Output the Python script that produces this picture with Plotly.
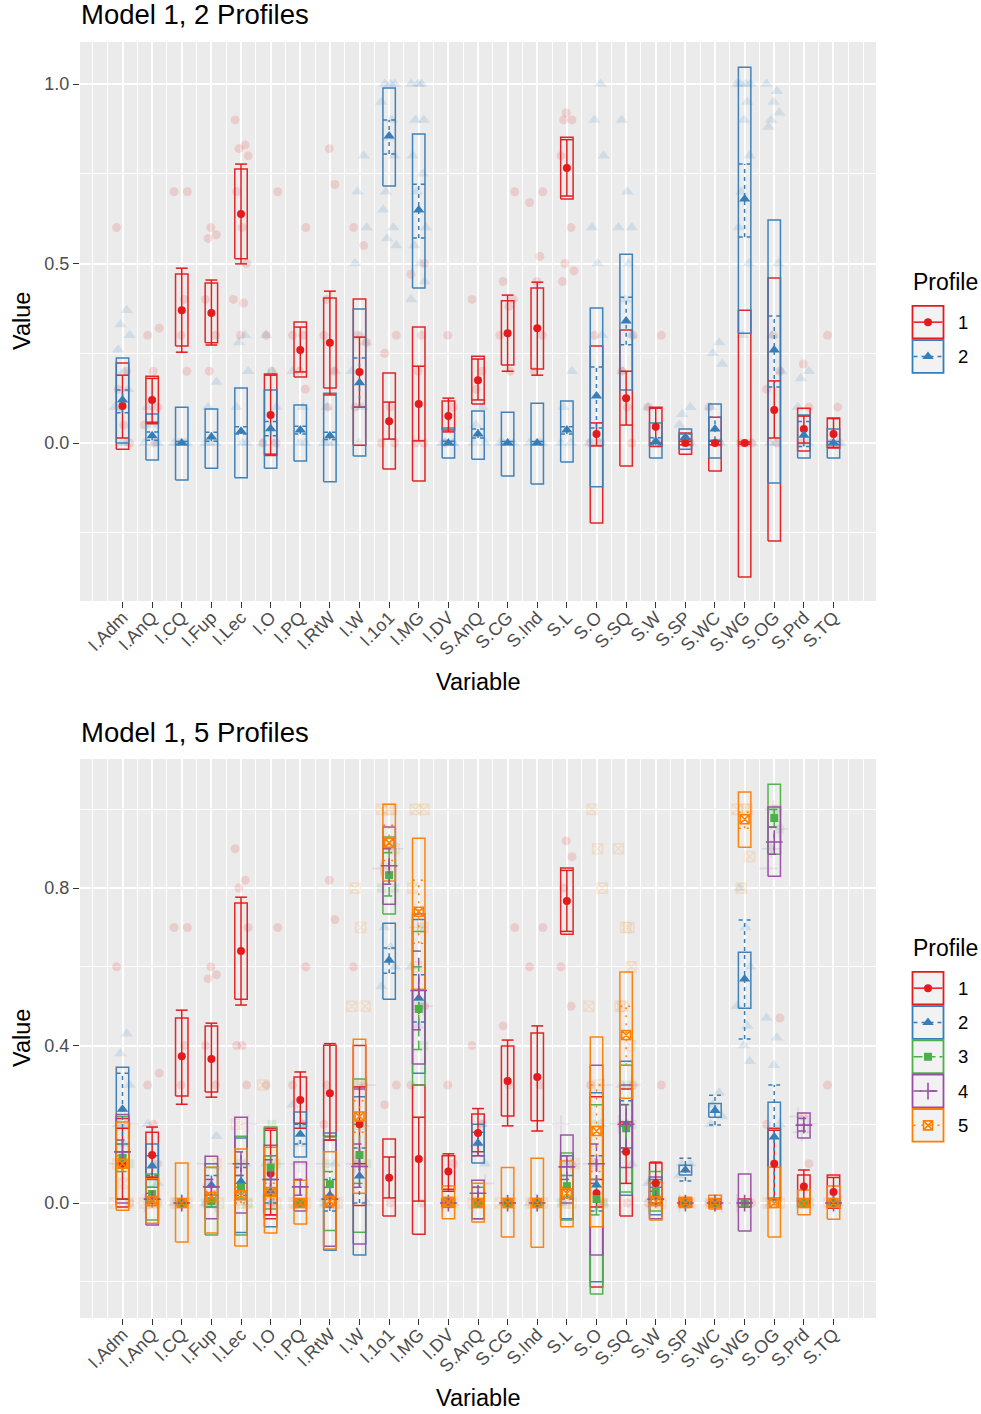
import plotly.graph_objects as go

# the page body margin is removed after rendering (see write_html below), so page pixels == figure pixels
OFF = 0
PAGE_W, PAGE_H = 981, 1414
W, H = PAGE_W, PAGE_H
FONT = "Liberation Sans, Arial, Helvetica, sans-serif"

CATS = ["I.Adm", "I.AnQ", "I.CQ", "I.Fup", "I.Lec", "I.O", "I.PQ", "I.RtW", "I.W", "I.1o1",
        "I.MG", "I.DV", "S.AnQ", "S.CG", "S.Ind", "S.L", "S.O", "S.SQ", "S.W", "S.SP",
        "S.WC", "S.WG", "S.OG", "S.Prd", "S.TQ"]
PROFILE_LABELS = ["1", "2", "3", "4", "5"]

# ---------------- Model 1, 2 Profiles ----------------
M2P1_MEAN = [0.103, 0.12, 0.37, 0.362, 0.638, 0.078, 0.259, 0.279, 0.198, 0.061, 0.109, 0.075, 0.175,
             0.306, 0.32, 0.766, 0.025, 0.125, 0.045, 0.0, 0.0, 0.0, 0.092, 0.039, 0.025]
M2P1_BOX_HI = [0.223, 0.186, 0.471, 0.446, 0.763, 0.192, 0.337, 0.404, 0.401, 0.195, 0.323, 0.117, 0.242,
               0.396, 0.432, 0.852, 0.27, 0.315, 0.1, 0.028, 0.072, 0.37, 0.46, 0.097, 0.07]
M2P1_BOX_LO = [-0.017, 0.054, 0.27, 0.279, 0.513, -0.035, 0.184, 0.153, -0.006, -0.072, -0.106, 0.036, 0.109,
               0.217, 0.206, 0.68, -0.223, -0.064, -0.01, -0.031, -0.078, -0.373, -0.273, -0.022, -0.014]
M2P1_CI_HI = [0.189, 0.18, 0.487, 0.454, 0.777, 0.189, 0.323, 0.423, 0.295, 0.114, 0.214, 0.125, 0.234,
              0.412, 0.448, 0.845, 0.056, 0.2, 0.097, 0.005, 0.005, 0.003, 0.173, 0.075, 0.068]
M2P1_CI_LO = [0.014, 0.058, 0.253, 0.273, 0.499, -0.031, 0.198, 0.134, 0.1, 0.011, 0.006, 0.031, 0.12,
              0.2, 0.189, 0.688, -0.008, 0.05, 0.0, -0.005, -0.005, -0.003, 0.014, 0.0, -0.012]
M2P1_RAW = [[0.6, 0.2, 0.1, 0.0, 0.15, 0.05], [0.32, 0.3, 0.2, 0.1, 0.05, 0.0], [0.7, 0.7, 0.4, 0.3, 0.2],
            [0.6, 0.58, 0.57, 0.4, 0.3, 0.2], [0.9, 0.83, 0.82, 0.8, 0.7, 0.6, 0.5, 0.4, 0.39, 0.3],
            [0.7, 0.3, 0.2, 0.0, 0.0], [0.6, 0.3, 0.3, 0.2, 0.15], [0.82, 0.72, 0.4, 0.3, 0.2, 0.1],
            [0.6, 0.55, 0.3, 0.28, 0.1], [0.3, 0.25, 0.1, 0.0, 0.0], [0.5, 0.47, 0.3, 0.2, 0.0, 0.0],
            [0.3, 0.1, 0.0], [0.4, 0.2, 0.15], [0.7, 0.45, 0.38, 0.4, 0.3, 0.2],
            [0.7, 0.67, 0.52, 0.45, 0.3, 0.2], [0.92, 0.9, 0.9, 0.8, 0.6, 0.5, 0.48, 0.45],
            [0.0, 0.0, 0.3], [0.3, 0.2, 0.1, 0.0], [0.3, 0.1, 0.0], [0.0, 0.0], [0.1, 0.0],
            [0.0, 0.0, 0.0], [0.2, 0.15, 0.0, 0.3], [0.22, 0.1, 0.0], [0.3, 0.1, 0.0]]

M2P2_MEAN = [0.12, 0.02, 0.0, 0.017, 0.033, 0.04, 0.036, 0.02, 0.168, 0.855, 0.649, 0.0, 0.025,
             0.0, 0.0, 0.036, 0.131, 0.34, 0.005, 0.017, 0.039, 0.68, 0.259, 0.022, 0.0]
M2P2_BOX_HI = [0.237, 0.081, 0.1, 0.095, 0.153, 0.148, 0.106, 0.139, 0.373, 0.989, 0.861, 0.042, 0.089,
               0.086, 0.111, 0.117, 0.376, 0.526, 0.056, 0.039, 0.109, 1.047, 0.621, 0.078, 0.039]
M2P2_BOX_LO = [0.0, -0.047, -0.103, -0.07, -0.097, -0.07, -0.05, -0.108, -0.036, 0.716, 0.432, -0.042, -0.045,
               -0.092, -0.114, -0.053, -0.122, 0.148, -0.042, -0.017, -0.042, 0.306, -0.111, -0.042, -0.042]
M2P2_CI_HI = [0.148, 0.031, 0.004, 0.03, 0.045, 0.06, 0.047, 0.03, 0.237, 0.9, 0.721, 0.005, 0.039,
              0.004, 0.004, 0.045, 0.212, 0.406, 0.015, 0.025, 0.072, 0.777, 0.354, 0.06, 0.004]
M2P2_CI_LO = [0.084, 0.008, -0.004, 0.005, 0.025, 0.02, 0.025, 0.01, 0.1, 0.805, 0.571, -0.005, 0.014,
              -0.004, -0.004, 0.025, 0.042, 0.274, -0.005, 0.01, 0.008, 0.574, 0.156, -0.01, -0.004]
M2P2_RAW = [[0.37, 0.33, 0.3, 0.26, 0.2, 0.15, 0.1, 0.0, 0.0], [0.1, 0.05, 0.0, 0.0, 0.0], [0.0] * 5,
            [0.17, 0.1, 0.0, 0.0, 0.0], [0.3, 0.28, 0.2, 0.1, 0.0, 0.0], [0.3, 0.2, 0.1, 0.0, 0.0],
            [0.2, 0.1, 0.0, 0.0], [0.2, 0.1, 0.0, 0.0, 0.0], [0.8, 0.7, 0.6, 0.5, 0.3, 0.28, 0.2, 0.1, 0.0],
            [1.0, 1.0, 1.0, 0.95, 0.9, 0.85, 0.8, 0.7, 0.65, 0.6, 0.57, 0.55],
            [1.0, 1.0, 1.0, 0.9, 0.9, 0.8, 0.75, 0.7, 0.6, 0.55, 0.5, 0.45, 0.4], [0.0] * 4,
            [0.1, 0.05, 0.0, 0.0], [0.0] * 4, [0.0] * 4, [0.2, 0.1, 0.0, 0.0],
            [1.0, 0.9, 0.8, 0.6, 0.5, 0.3, 0.0, 0.0], [0.9, 0.7, 0.6, 0.6, 0.5, 0.4, 0.3, 0.2],
            [0.1, 0.0, 0.0], [0.1, 0.08, 0.05, 0.0], [0.28, 0.25, 0.22, 0.1, 0.0, 0.0],
            [1.0, 1.0, 1.0, 1.0, 0.95, 0.9, 0.8, 0.7, 0.6, 0.5, 0.3, 0.0],
            [1.0, 0.98, 0.95, 0.92, 0.9, 0.88, 0.5, 0.3, 0.2, 0.0, 0.0], [0.2, 0.18, 0.1, 0.0], [0.0] * 3]

# ---------------- Model 1, 5 Profiles ----------------
M5P1_MEAN = [0.1, 0.122, 0.373, 0.366, 0.64, 0.075, 0.262, 0.279, 0.2, 0.064, 0.112, 0.08, 0.178,
             0.31, 0.32, 0.767, 0.025, 0.13, 0.05, 0.0, 0.0, 0.0, 0.1, 0.042, 0.028]
M5P1_BOX_HI = [0.215, 0.18, 0.47, 0.45, 0.762, 0.19, 0.32, 0.401, 0.4, 0.163, 0.3, 0.12, 0.226,
               0.399, 0.432, 0.851, 0.27, 0.29, 0.102, 0.01, 0.01, 0.01, 0.19, 0.071, 0.071]
M5P1_BOX_LO = [-0.01, 0.064, 0.272, 0.282, 0.518, -0.04, 0.203, 0.17, -0.006, -0.033, -0.079, 0.035, 0.13,
               0.221, 0.209, 0.683, -0.213, -0.033, -0.002, -0.01, -0.01, -0.01, 0.01, 0.0, -0.013]
M5P1_CI_HI = [0.19, 0.193, 0.49, 0.457, 0.777, 0.185, 0.333, 0.405, 0.295, 0.117, 0.218, 0.125, 0.24,
              0.414, 0.45, 0.845, 0.06, 0.206, 0.104, 0.003, 0.003, 0.0, 0.185, 0.084, 0.065]
M5P1_CI_LO = [0.01, 0.066, 0.251, 0.269, 0.503, -0.03, 0.19, 0.16, 0.1, 0.013, 0.005, 0.03, 0.12,
              0.196, 0.183, 0.69, -0.01, 0.05, 0.0, -0.003, -0.003, 0.0, 0.012, 0.005, 0.0]
M5P1_RAW = [[0.6, 0.2, 0.1, 0.0], [0.33, 0.3, 0.2, 0.1], [0.7, 0.7, 0.4, 0.3], [0.6, 0.58, 0.57, 0.4, 0.3],
            [0.9, 0.82, 0.8, 0.7, 0.4, 0.4, 0.3], [0.7, 0.3, 0.0], [0.6, 0.3, 0.2], [0.82, 0.72, 0.3, 0.2],
            [0.6, 0.3, 0.1], [0.3, 0.25, 0.0], [0.5, 0.3, 0.0], [0.3, 0.1, 0.0], [0.4, 0.2],
            [0.7, 0.45, 0.3], [0.7, 0.6, 0.3], [0.92, 0.88, 0.8, 0.6, 0.5], [0.3, 0.0], [0.3, 0.2, 0.0],
            [0.3, 0.0], [0.0], [0.0], [0.0], [0.47, 0.2, 0.0], [0.22, 0.1], [0.3, 0.0]]

M5P2_MEAN = [0.238, 0.094, 0.0, 0.045, 0.055, 0.03, 0.175, 0.02, 0.069, 0.617, 0.52, 0.0, 0.152,
             0.0, 0.0, 0.04, 0.046, 0.2, 0.02, 0.084, 0.235, 0.569, 0.168, 0.0, 0.0]
M5P2_BOX_HI = [0.345, 0.15, 0.0, 0.1, 0.165, 0.12, 0.231, 0.178, 0.27, 0.711, 0.72, 0.01, 0.2,
               0.0, 0.0, 0.12, 0.28, 0.36, 0.06, 0.096, 0.253, 0.637, 0.256, 0.01, 0.005]
M5P2_BOX_LO = [0.13, 0.04, 0.0, -0.01, -0.075, -0.06, 0.117, -0.12, -0.132, 0.518, 0.33, -0.01, 0.102,
               0.0, 0.0, -0.04, -0.2, 0.02, -0.03, 0.071, 0.218, 0.495, 0.008, -0.01, -0.005]
M5P2_CI_HI = [0.33, 0.12, 0.0, 0.07, 0.09, 0.06, 0.2, 0.06, 0.14, 0.648, 0.58, 0.0, 0.18,
              0.0, 0.0, 0.07, 0.12, 0.26, 0.04, 0.114, 0.274, 0.719, 0.3, 0.0, 0.0]
M5P2_CI_LO = [0.15, 0.07, 0.0, 0.02, 0.02, 0.0, 0.15, -0.02, 0.0, 0.584, 0.46, 0.0, 0.12,
              0.0, 0.0, 0.01, -0.02, 0.14, 0.0, 0.056, 0.198, 0.417, 0.01, 0.0, 0.0]
M5P2_RAW = [[0.43, 0.38, 0.3, 0.2, 0.15], [0.2, 0.1, 0.05], [0.0], [0.17, 0.05, 0.0], [0.1, 0.0], [0.1, 0.0],
            [0.25, 0.2, 0.15], [0.1, 0.0], [0.2, 0.1, 0.0], [0.7, 0.65, 0.6, 0.55], [0.6, 0.5, 0.45], [0.0],
            [0.2, 0.15, 0.1], [0.0], [0.0], [0.1, 0.0], [0.2, 0.1, 0.0], [0.3, 0.2, 0.1], [0.05, 0.0],
            [0.1, 0.1, 0.07], [0.28, 0.25, 0.22, 0.2], [0.8, 0.7, 0.6, 0.5, 0.45, 0.4, 0.36],
            [0.47, 0.42, 0.35, 0.2, 0.0], [0.0], [0.0]]

M5P3_MEAN = [0.115, 0.023, 0.0, 0.005, 0.04, 0.09, 0.0, 0.048, 0.122, 0.833, 0.493, 0.0, 0.0,
             0.0, 0.0, 0.043, 0.01, 0.19, 0.03, 0.0, 0.0, 0.0, 0.978, 0.0, 0.0]
M5P3_BOX_HI = [0.22, 0.074, 0.0, 0.09, 0.17, 0.193, 0.005, 0.168, 0.315, 0.93, 0.69, 0.0, 0.04,
               0.0, 0.0, 0.127, 0.25, 0.35, 0.08, 0.0, 0.0, 0.0, 1.064, 0.0, 0.0]
M5P3_BOX_LO = [0.01, -0.043, 0.0, -0.081, -0.081, -0.015, -0.005, -0.07, -0.074, 0.734, 0.3, 0.0, -0.04,
               0.0, 0.0, -0.043, -0.231, 0.028, -0.02, 0.0, 0.0, 0.0, 0.886, 0.0, 0.0]
M5P3_CI_HI = [0.15, 0.04, 0.0, 0.02, 0.07, 0.12, 0.0, 0.08, 0.2, 0.89, 0.6, 0.0, 0.01,
              0.0, 0.0, 0.07, 0.06, 0.25, 0.05, 0.0, 0.0, 0.0, 1.0, 0.0, 0.0]
M5P3_CI_LO = [0.08, 0.005, 0.0, -0.01, 0.01, 0.06, 0.0, 0.01, 0.05, 0.78, 0.39, 0.0, -0.01,
              0.0, 0.0, 0.015, -0.03, 0.13, 0.01, 0.0, 0.0, 0.0, 0.955, 0.0, 0.0]
M5P3_RAW = [[0.2, 0.1], [0.05, 0.0], [0.0], [0.0, 0.0], [0.1, 0.0], [0.2, 0.1], [0.0], [0.1, 0.0], [0.3, 0.1],
            [0.9, 0.8, 0.8], [0.7, 0.5, 0.4], [0.0], [0.0], [0.0], [0.0], [0.1, 0.0], [0.2, 0.0], [0.3, 0.2],
            [0.05], [0.0], [0.0], [0.0], [1.0, 1.0, 0.95, 0.9], [0.0], [0.0]]

M5P4_MEAN = [0.13, 0.01, 0.0, 0.041, 0.1, 0.06, 0.041, 0.01, 0.093, 0.857, 0.54, 0.0, 0.025,
             0.0, 0.0, 0.092, 0.1, 0.2, 0.01, 0.0, 0.0, 0.0, 0.917, 0.198, 0.0]
M5P4_BOX_HI = [0.225, 0.06, 0.0, 0.119, 0.218, 0.147, 0.104, 0.16, 0.29, 0.955, 0.734, 0.0, 0.058,
               0.0, 0.0, 0.173, 0.35, 0.3, 0.066, 0.0, 0.0, 0.074, 1.006, 0.229, 0.0]
M5P4_BOX_LO = [0.0, -0.056, 0.0, -0.04, -0.025, -0.03, -0.02, -0.11, -0.104, 0.759, 0.353, 0.0, -0.04,
               0.0, 0.0, 0.0, -0.132, 0.09, -0.04, 0.0, 0.0, -0.071, 0.83, 0.165, 0.0]
M5P4_CI_HI = [0.16, 0.025, 0.0, 0.06, 0.13, 0.11, 0.06, 0.04, 0.15, 0.9, 0.64, 0.0, 0.04,
              0.0, 0.0, 0.12, 0.15, 0.25, 0.03, 0.0, 0.0, 0.0, 0.955, 0.215, 0.0]
M5P4_CI_LO = [0.1, 0.0, 0.0, 0.02, 0.07, 0.02, 0.02, -0.01, 0.04, 0.81, 0.44, 0.0, 0.01,
              0.0, 0.0, 0.06, 0.05, 0.14, 0.0, 0.0, 0.0, 0.0, 0.886, 0.183, 0.0]
M5P4_RAW = [[0.2, 0.1], [0.0, 0.0], [0.0], [0.1, 0.0], [0.2, 0.1], [0.1, 0.0], [0.1, 0.0], [0.1, 0.0],
            [0.3, 0.1], [0.9, 0.85], [0.7, 0.5], [0.0], [0.05, 0.0], [0.0], [0.0], [0.2, 0.1], [0.3, 0.1],
            [0.3, 0.2], [0.05, 0.0], [0.0], [0.0], [0.0, 0.0], [1.0, 0.95, 0.9, 0.85], [0.22, 0.2, 0.18], [0.0]]

M5P5_MEAN = [0.1, 0.005, 0.0, 0.015, 0.02, 0.028, 0.0, 0.005, 0.22, 0.915, 0.74, 0.003, 0.0,
             0.0, 0.0, 0.025, 0.183, 0.427, 0.005, 0.0, 0.0, 0.975, 0.0, 0.0, 0.0]
M5P5_BOX_HI = [0.206, 0.063, 0.102, 0.091, 0.137, 0.142, 0.058, 0.13, 0.416, 1.013, 0.927, 0.043, 0.05,
               0.09, 0.114, 0.107, 0.422, 0.587, 0.053, 0.015, 0.02, 1.044, 0.091, 0.033, 0.043]
M5P5_BOX_LO = [-0.018, -0.051, -0.099, -0.076, -0.109, -0.076, -0.053, -0.117, 0.025, 0.818, 0.543, -0.04, -0.048,
               -0.086, -0.112, -0.06, -0.06, 0.266, -0.043, -0.01, -0.015, 0.904, -0.086, -0.03, -0.041]
M5P5_CI_HI = [0.12, 0.01, 0.0, 0.03, 0.04, 0.05, 0.0, 0.02, 0.26, 0.96, 0.82, 0.01, 0.0,
              0.0, 0.0, 0.04, 0.3, 0.5, 0.01, 0.0, 0.0, 0.993, 0.0, 0.0, 0.0]
M5P5_CI_LO = [0.08, 0.0, 0.0, 0.0, 0.0, 0.01, 0.0, -0.01, 0.18, 0.87, 0.66, 0.0, 0.0,
              0.0, 0.0, 0.01, 0.08, 0.35, 0.0, 0.0, 0.0, 0.952, 0.0, 0.0, 0.0]
M5P5_RAW = [[0.1, 0.05, 0.0, 0.0], [0.0, 0.0, 0.0], [0.0, 0.0, 0.0], [0.1, 0.0, 0.0], [0.2, 0.0, 0.0],
            [0.3, 0.1, 0.0, 0.0], [0.0, 0.0, 0.0], [0.0, 0.0, 0.0], [0.8, 0.7, 0.5, 0.5, 0.3, 0.2],
            [1.0, 1.0, 1.0, 0.9, 0.85], [1.0, 1.0, 0.8, 0.7, 0.6], [0.0, 0.0], [0.0, 0.0], [0.0, 0.0, 0.0],
            [0.0, 0.0, 0.0], [0.0, 0.0, 0.1], [1.0, 0.9, 0.8, 0.5, 0.3, 0.1, 0.0],
            [0.9, 0.7, 0.7, 0.6, 0.5, 0.5, 0.4], [0.0, 0.0], [0.0, 0.0], [0.0, 0.0],
            [1.0, 1.0, 1.0, 0.88, 0.8], [0.0, 0.0, 0.0], [0.0, 0.0], [0.0, 0.0]]

# ---------------- styles ----------------
COLORS = ["#E41A1C", "#377EB8", "#4DAF4A", "#984EA3", "#FF7F00"]
SYMBOLS = ["circle", "triangle-up", "square", "cross-thin-open", "square-x-open"]
SIZES = [8, 10, 8, 12, 9]
DASHES = ["solid", "4px,4px", "9px,4px", "8px,8px", "2px,6px"]
JITTER = [-0.2, 0.14, -0.07, 0.24, -0.15, 0.04, 0.19, -0.26, 0.09, -0.02, 0.17, -0.11]
BOX_HW = 0.21
CAP_HW = 0.2
LW = 1.5

PANEL_TOP = dict(mean=[M2P1_MEAN, M2P2_MEAN], bhi=[M2P1_BOX_HI, M2P2_BOX_HI], blo=[M2P1_BOX_LO, M2P2_BOX_LO],
                 chi=[M2P1_CI_HI, M2P2_CI_HI], clo=[M2P1_CI_LO, M2P2_CI_LO], raw=[M2P1_RAW, M2P2_RAW])
PANEL_BOT = dict(mean=[M5P1_MEAN, M5P2_MEAN, M5P3_MEAN, M5P4_MEAN, M5P5_MEAN],
                 bhi=[M5P1_BOX_HI, M5P2_BOX_HI, M5P3_BOX_HI, M5P4_BOX_HI, M5P5_BOX_HI],
                 blo=[M5P1_BOX_LO, M5P2_BOX_LO, M5P3_BOX_LO, M5P4_BOX_LO, M5P5_BOX_LO],
                 chi=[M5P1_CI_HI, M5P2_CI_HI, M5P3_CI_HI, M5P4_CI_HI, M5P5_CI_HI],
                 clo=[M5P1_CI_LO, M5P2_CI_LO, M5P3_CI_LO, M5P4_CI_LO, M5P5_CI_LO],
                 raw=[M5P1_RAW, M5P2_RAW, M5P3_RAW, M5P4_RAW, M5P5_RAW])


def fx(px):
    return (px - OFF) / W


def fy(py):
    return 1 - (py - OFF) / H


fig = go.Figure()


def marker_style(p, size, opacity=1.0):
    open_sym = SYMBOLS[p].endswith("open")
    return dict(symbol=SYMBOLS[p], size=size, color=COLORS[p], opacity=opacity,
                line=dict(color=COLORS[p], width=1.6 if open_sym else 0))


def add_panel(panel, xa, ya):
    n_prof = len(panel["mean"])
    for p in range(n_prof):
        xs, ys = [], []
        for i, vals in enumerate(panel["raw"][p]):
            for k, v in enumerate(vals):
                xs.append(i + 1 + JITTER[(k + 3 * i + p) % len(JITTER)])
                ys.append(v)
        fig.add_trace(go.Scatter(x=xs, y=ys, xaxis=xa, yaxis=ya, mode="markers",
                                 marker=marker_style(p, SIZES[p] + 1, 0.14),
                                 hoverinfo="skip", showlegend=False))
    for p in range(n_prof):
        xs, ys = [], []
        for i in range(len(CATS)):
            c = i + 1
            lo, hi = panel["blo"][p][i], panel["bhi"][p][i]
            xs += [c - BOX_HW, c + BOX_HW, c + BOX_HW, c - BOX_HW, c - BOX_HW, None]
            ys += [lo, lo, hi, hi, lo, None]
        fig.add_trace(go.Scatter(x=xs, y=ys, xaxis=xa, yaxis=ya, mode="lines",
                                 line=dict(color=COLORS[p], width=LW), opacity=0.95,
                                 hoverinfo="skip", showlegend=False))
    for p in range(n_prof):
        xs, ys = [], []
        for i in range(len(CATS)):
            c = i + 1
            lo, hi = panel["clo"][p][i], panel["chi"][p][i]
            xs += [c, c, None, c - CAP_HW, c + CAP_HW, None, c - CAP_HW, c + CAP_HW, None]
            ys += [lo, hi, None, hi, hi, None, lo, lo, None]
        fig.add_trace(go.Scatter(x=xs, y=ys, xaxis=xa, yaxis=ya, mode="lines",
                                 line=dict(color=COLORS[p], width=LW, dash=DASHES[p]),
                                 hoverinfo="skip", showlegend=False))
    for p in range(n_prof):
        fig.add_trace(go.Scatter(x=list(range(1, len(CATS) + 1)), y=panel["mean"][p], xaxis=xa, yaxis=ya,
                                 mode="markers", marker=marker_style(p, SIZES[p]),
                                 hoverinfo="skip", showlegend=False))


add_panel(PANEL_TOP, "x", "y")
add_panel(PANEL_BOT, "x2", "y2")

# ---------------- legends (overlay axis in page pixels) ----------------
shapes = []
annotations = []


def add_legend(title_y, key_top, n):
    annotations.append(dict(x=911, y=title_y, xref="x3", yref="y3", text="Profile", showarrow=False,
                            xanchor="left", yanchor="middle", font=dict(size=23, color="black", family=FONT)))
    kh = 34.3
    for p in range(n):
        y0 = key_top + p * kh
        yc = y0 + kh / 2
        shapes.append(dict(type="rect", xref="x3", yref="y3", x0=912.5, x1=943.5, y0=y0 + 0.8, y1=y0 + kh - 0.8,
                           fillcolor="#F2F2F2", line=dict(color=COLORS[p], width=1.8), layer="below"))
        fig.add_trace(go.Scatter(x=[913.5, 942.5], y=[yc, yc], xaxis="x3", yaxis="y3", mode="lines",
                                 line=dict(color=COLORS[p], width=LW, dash=DASHES[p]),
                                 hoverinfo="skip", showlegend=False, cliponaxis=False))
        fig.add_trace(go.Scatter(x=[928], y=[yc], xaxis="x3", yaxis="y3", mode="markers",
                                 marker=marker_style(p, SIZES[p]), hoverinfo="skip",
                                 showlegend=False, cliponaxis=False))
        annotations.append(dict(x=956, y=yc, xref="x3", yref="y3", text=PROFILE_LABELS[p], showarrow=False,
                                xanchor="left", yanchor="middle", font=dict(size=18.5, color="black", family=FONT)))


add_legend(282, 305, 2)
add_legend(948, 971, 5)

# ---------------- titles ----------------
for ty, txt in [(15, "Model 1, 2 Profiles"), (732, "Model 1, 5 Profiles")]:
    annotations.append(dict(x=fx(79), y=fy(ty), xref="paper", yref="paper", text=txt,
                            showarrow=False, xanchor="left", yanchor="middle",
                            font=dict(size=27.5, color="black", family=FONT)))
for ty in [682, 1398]:
    annotations.append(dict(x=fx(478), y=fy(ty), xref="paper", yref="paper", text="Variable",
                            showarrow=False, xanchor="center", yanchor="middle",
                            font=dict(size=23.5, color="black", family=FONT)))
for ty in [321, 1038]:
    annotations.append(dict(x=fx(22), y=fy(ty), xref="paper", yref="paper", text="Value", textangle=-90,
                            showarrow=False, xanchor="center", yanchor="middle",
                            font=dict(size=23.5, color="black", family=FONT)))

for xa, ya in [("x", "y"), ("x2", "y2")]:
    shapes.append(dict(type="rect", xref=xa + " domain", yref=ya + " domain", x0=0, x1=1, y0=0, y1=1,
                       fillcolor="#EBEBEB", line=dict(width=0), layer="below"))

XDOM = [fx(80), fx(876)]
MINOR_X = [0, 0.5] + [i + 0.5 for i in range(1, 26)] + [26]


def xaxis_cfg(anchor):
    return dict(domain=XDOM, anchor=anchor, range=[-0.435, 26.435], tickmode="array",
                tickvals=list(range(1, 26)), ticktext=CATS, tickangle=-45,
                tickfont=dict(size=18, color="#4D4D4D", family=FONT), ticks="outside", ticklen=6,
                tickwidth=1.1, tickcolor="#333333", showgrid=True, gridcolor="white", gridwidth=1.6,
                zeroline=False, showline=False, fixedrange=True, ticklabelstandoff=-8,
                minor=dict(tickmode="array", tickvals=MINOR_X, showgrid=True, gridcolor="white",
                           gridwidth=0.8, ticks=""))


def yaxis_cfg(anchor, dom, rng, tv, tt, minor):
    return dict(domain=dom, anchor=anchor, range=rng, tickmode="array", tickvals=tv, ticktext=tt,
                tickfont=dict(size=18, color="#4D4D4D", family=FONT), ticks="outside", ticklen=6,
                tickwidth=1.1, tickcolor="#333333", showgrid=True, gridcolor="white", gridwidth=1.6,
                zeroline=False, showline=False, fixedrange=True,
                minor=dict(tickmode="array", tickvals=minor, showgrid=True, gridcolor="white",
                           gridwidth=0.8, ticks=""))


fig.update_layout(
    width=W, height=H, margin=dict(l=0, r=0, t=0, b=0, autoexpand=False),
    paper_bgcolor="white", plot_bgcolor="rgba(0,0,0,0)", showlegend=False, hovermode=False,
    font=dict(family=FONT),
    xaxis=xaxis_cfg("y"),
    yaxis=yaxis_cfg("x", [fy(601), fy(42)], [-0.44, 1.117], [0, 0.5, 1.0], ["0.0", "0.5", "1.0"],
                    [-0.25, 0.25, 0.75]),
    xaxis2=xaxis_cfg("y2"),
    yaxis2=yaxis_cfg("x2", [fy(1318), fy(759)], [-0.292, 1.128], [0, 0.4, 0.8], ["0.0", "0.4", "0.8"],
                     [-0.2, 0.2, 0.6, 1.0]),
    xaxis3=dict(domain=[0, 1], anchor="y3", range=[OFF, OFF + W], visible=False, fixedrange=True),
    yaxis3=dict(domain=[0, 1], anchor="x3", range=[OFF + H, OFF], visible=False, fixedrange=True),
    shapes=shapes, annotations=annotations,
)

fig.write_html("out.html", config={"displayModeBar": False},
               post_script="document.body.style.margin='0px';document.body.style.overflow='hidden';")
